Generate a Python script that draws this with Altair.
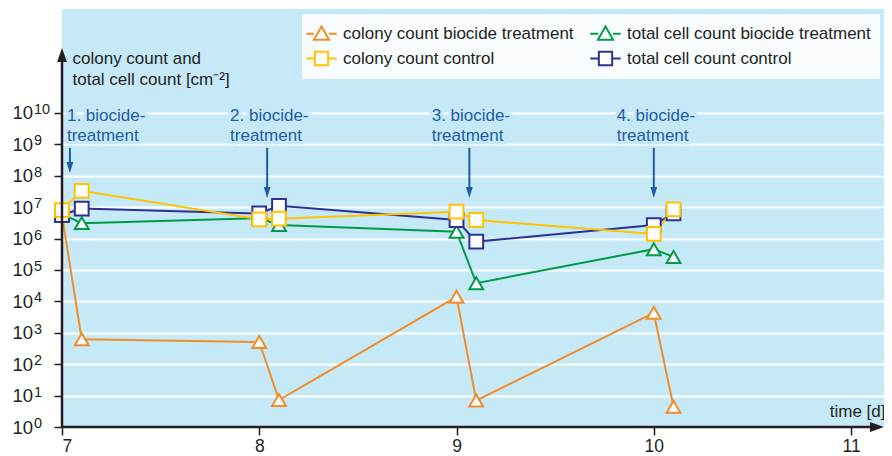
import altair as alt
import pandas as pd

F = "Liberation Sans"
BG = "#c6e9f8"
INK = "#231f20"
BLUE = "#1f5ba8"

# ---- data ----
days = [7.0, 7.1, 8.0, 8.1, 9.0, 9.1, 10.0, 10.1]
colony_biocide = [5.5e6, 620, 510, 7.2, 1.4e4, 7.0, 4300, 4.4]
total_biocide = [6.0e6, 3.1e6, 4.5e6, 2.7e6, 1.66e6, 3.8e4, 4.6e5, 2.6e5]
colony_control = [8.1e6, 3.3e7, 4.1e6, 4.3e6, 7.2e6, 3.9e6, 1.4e6, 8.5e6]
total_control = [5.6e6, 9.0e6, 6.3e6, 1.1e7, 3.9e6, 8.0e5, 2.7e6, 6.3e6]

series_names = ["colony count biocide treatment", "total cell count biocide treatment",
                "colony count control", "total cell count control"]
series_colors = ["#F28C28", "#009B48", "#FFC300", "#2E3192"]
point_shapes = ["triangle-up", "triangle-up", "square", "square"]
TRI = "M-1.6,0H-0.78M0.78,0H1.6M0,-0.78L0.8,0.62L-0.8,0.62Z"
SQR = "M-1.6,0H-0.7M0.7,0H1.6M-0.7,-0.7H0.7V0.7H-0.7Z"
legend_shapes = [TRI, TRI, SQR, SQR]
legend_order = [0, 2, 1, 3]  # legend fills column by column

treat_labels = ["1. biocide-\ntreatment", "2. biocide-\ntreatment",
                "3. biocide-\ntreatment", "4. biocide-\ntreatment"]
treat_text_x = [7.025, 7.852, 8.874, 9.812]
treat_text_y = [10 ** 9.745] * 4
treat_arrow_x = [7.04, 8.04, 9.065, 10.0]
treat_arrow_top = [10 ** 8.89] * 4
treat_arrow_tip = [10 ** 8.09, 10 ** 7.29, 10 ** 7.29, 10 ** 7.29]

y_ticks = [10 ** i for i in range(11)]
y_tick_base = ["10"] * 11
y_tick_exp = [str(i) for i in range(11)]
x_ticks = [7, 8, 9, 10, 11]

X_MAX = 11.167
Y_MAX = 10 ** 13.31
Y_ARROW = 10 ** 12.07

# ---- tables ----
draw_order = [0, 1, 3, 2]
all_vals = [colony_biocide, total_biocide, colony_control, total_control]
rows = []
for i in draw_order:
    for d, v in zip(days, all_vals[i]):
        rows.append({"day": d, "value": v, "series": series_names[i]})
df = pd.DataFrame(rows)

ann = pd.DataFrame({
    "day": treat_text_x, "value": treat_text_y, "label": treat_labels,
    "ax": treat_arrow_x, "atop": treat_arrow_top, "atip": treat_arrow_tip,
    "aend": [t * 10 ** 0.2 for t in treat_arrow_tip],
})

axes_df = pd.DataFrame({"day": [7.0], "value": [1.0], "xend": [X_MAX - 0.03],
                        "yend": [Y_ARROW / 10 ** 0.25], "xtip": [X_MAX], "ytip": [Y_ARROW]})

ylab = pd.DataFrame({"day": [7.0] * len(y_ticks), "value": y_ticks,
                     "base": y_tick_base, "exp": y_tick_exp})

xs = alt.Scale(domain=[7, X_MAX], nice=False, zero=False)
ys = alt.Scale(type="log", domain=[1, Y_MAX], nice=False)

x_axis = alt.Axis(values=x_ticks, format="d", grid=False, domain=False,
                  tickColor=INK, tickSize=8, tickWidth=1.5,
                  labelFont=F, labelFontSize=17.5, labelColor=INK, labelPadding=2,
                  title="time [d]", titleFont=F, titleFontSize=17, titleFontWeight="normal",
                  titleColor=INK, titleAlign="right", titleBaseline="alphabetic",
                  titleAnchor="end", titleX=823, titleY=-11)
y_axis = alt.Axis(values=y_ticks, labels=False, grid=True, gridColor="white",
                  gridWidth=2, gridOpacity=1, domain=False, tickColor=INK, tickSize=8,
                  tickWidth=1.5,
                  title=["colony count and", "total cell count [cm⁻²]"], titleFont=F,
                  titleFontSize=17, titleFontWeight="normal", titleColor=INK, titleAngle=0,
                  titleAlign="left", titleBaseline="alphabetic", titleX=10, titleY=54,
                  titleLineHeight=21)


def X(field):
    return alt.X(field, type="quantitative", scale=xs, axis=x_axis)


def Y(field):
    return alt.Y(field, type="quantitative", scale=ys, axis=y_axis)


color_scale = alt.Scale(domain=series_names, range=series_colors)

lines = alt.Chart(df).mark_line(strokeWidth=2).encode(
    x=X("day"), y=Y("value"),
    color=alt.Color("series:N", scale=color_scale, legend=None),
    detail="series:N",
)

points = alt.Chart(df).mark_point(fill="white", strokeWidth=2, size=190, opacity=1).encode(
    x=X("day"), y=Y("value"),
    color=alt.Color("series:N", scale=color_scale, legend=None),
    shape=alt.Shape("series:N", scale=alt.Scale(domain=series_names, range=point_shapes), legend=None),
)

leg_dom = [series_names[i] for i in legend_order]
leg_col = [series_colors[i] for i in legend_order]
leg_shp = [legend_shapes[i] for i in legend_order]


def make_legend():
    return alt.Legend(title=None, orient="none", legendX=240, legendY=5,
                      columns=2, symbolSize=361, symbolStrokeWidth=2,
                      labelFont=F, labelFontSize=17, labelColor=INK, labelLimit=500,
                      labelOffset=11, rowPadding=3, columnPadding=12,
                      padding=9, fillColor="#f9fcfe", symbolFillColor="white")


legend_layer = alt.Chart(df).transform_filter("datum.day > 100").transform_calculate(
    entry="datum.series"
).mark_point(fill="white", strokeWidth=2, opacity=1).encode(
    x=X("day"), y=Y("value"),
    color=alt.Color("entry:N", scale=alt.Scale(domain=leg_dom, range=leg_col), legend=make_legend()),
    shape=alt.Shape("entry:N", scale=alt.Scale(domain=leg_dom, range=leg_shp), legend=make_legend()),
)

halo = alt.Chart(ann).mark_text(align="left", baseline="alphabetic", lineBreak="\n",
                                font=F, fontSize=17, lineHeight=20, fill=BG, stroke=BG,
                                strokeWidth=7, strokeJoin="round").encode(
    x=X("day"), y=Y("value"), text="label:N")
texts = alt.Chart(ann).mark_text(align="left", baseline="alphabetic", lineBreak="\n",
                                 font=F, fontSize=17, lineHeight=20, color=BLUE).encode(
    x=X("day"), y=Y("value"), text="label:N")

arrows = alt.Chart(ann).mark_rule(color=BLUE, strokeWidth=2).encode(
    x=X("ax"), y=Y("atop"), y2="aend:Q")
heads = alt.Chart(ann).mark_point(shape="M0,0L-0.62,-2L0.62,-2Z", size=121, filled=True,
                                  color=BLUE, opacity=1).encode(x=X("ax"), y=Y("atip"))

x_line = alt.Chart(axes_df).mark_rule(color=INK, strokeWidth=2.5).encode(
    x=X("day"), x2="xend:Q", y=Y("value"))
y_line = alt.Chart(axes_df).mark_rule(color=INK, strokeWidth=2.5).encode(
    x=X("day"), y=Y("value"), y2="yend:Q")
x_head = alt.Chart(axes_df).mark_point(shape="M0,0L-2,-0.7L-2,0.7Z", size=196, filled=True,
                                       color=INK, opacity=1).encode(x=X("xtip"), y=Y("value"))
y_head = alt.Chart(axes_df).mark_point(shape="M0,0L-0.7,2L0.7,2Z", size=196, filled=True,
                                       color=INK, opacity=1).encode(x=X("day"), y=Y("ytip"))

ylab_base = alt.Chart(ylab).mark_text(align="right", baseline="alphabetic", dx=-29, dy=6.5,
                                      font=F, fontSize=18.5, color=INK).encode(
    x=X("day"), y=Y("value"), text="base:N")
ylab_exp = alt.Chart(ylab).mark_text(align="left", baseline="alphabetic", dx=-28, dy=1,
                                     font=F, fontSize=14.5, color=INK).encode(
    x=X("day"), y=Y("value"), text="exp:N")

chart = alt.layer(
    lines, halo, texts, arrows, heads, points, legend_layer, x_line, y_line, x_head, y_head,
    ylab_base, ylab_exp
).resolve_scale(color="independent", shape="independent").properties(
    width=822, height=418,
    autosize=alt.AutoSizeParams(type="none"),
    padding={"left": 54, "top": 1, "right": 0, "bottom": 29},
).configure_view(fill=BG, strokeWidth=0)

chart.save("out.html", embed_options={"renderer": "svg", "actions": False})
